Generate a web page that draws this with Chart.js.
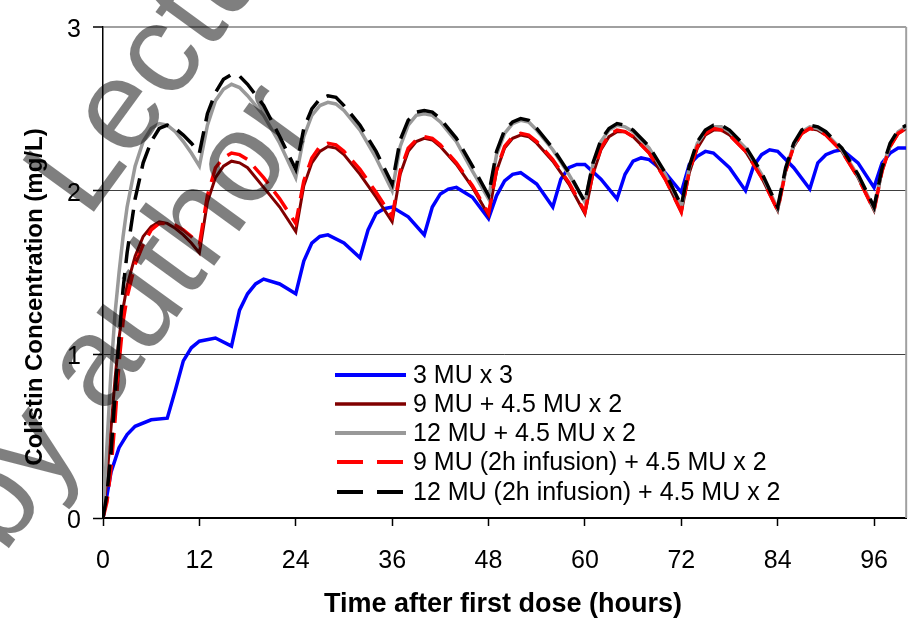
<!DOCTYPE html>
<html lang="en">
<head>
    <meta charset="UTF-8">
    <title>Colistin Concentration</title>
    <script src="https://cdn.jsdelivr.net/npm/chart.js"></script>
    <style>
        body { margin: 0; background: #fff; }
    </style>
</head>
<body>
    <canvas id="colistinChart" width="908" height="621"></canvas>

    <script>
        // regimen names (legend order)
        const regimens = [
            '3 MU x 3',
            '9 MU + 4.5 MU x 2',
            '12 MU + 4.5 MU x 2',
            '9 MU (2h infusion) + 4.5 MU x 2',
            '12 MU (2h infusion) + 4.5 MU x 2'
        ];

        const xTickStep = 12;
        const yTickStep = 1;

        // 3 MU every 8 h
        const hours8h = [0, 1, 2, 3, 4, 6, 8, 9, 10, 11, 12, 14, 16, 17, 18, 19, 20, 22, 24,
            25, 26, 27, 28, 30, 32, 33, 34, 35, 36, 38, 40, 41, 42, 43, 44, 46, 48,
            49, 50, 51, 52, 54, 56, 57, 58, 59, 60, 62, 64, 65, 66, 67, 68, 70, 72,
            73, 74, 75, 76, 78, 80, 81, 82, 83, 84, 86, 88, 89, 90, 91, 92, 94, 96,
            97, 98, 99, 100];
        const conc3MU = [0, 0.28, 0.43, 0.51, 0.56, 0.60, 0.61, 0.78, 0.96, 1.04, 1.08, 1.10, 1.05,
            1.27, 1.37, 1.43, 1.46, 1.43, 1.37, 1.57, 1.68, 1.72, 1.73, 1.68, 1.59,
            1.76, 1.86, 1.89, 1.90, 1.84, 1.73, 1.90, 1.98, 2.01, 2.02, 1.96, 1.83,
            1.97, 2.06, 2.10, 2.11, 2.04, 1.90, 2.07, 2.14, 2.16, 2.16, 2.07, 1.95,
            2.10, 2.18, 2.20, 2.19, 2.11, 1.99, 2.16, 2.21, 2.24, 2.23, 2.14, 2.00,
            2.15, 2.22, 2.25, 2.24, 2.14, 2.01, 2.17, 2.22, 2.24, 2.25, 2.17, 2.02,
            2.17, 2.23, 2.26, 2.26];

        // loading dose then 4.5 MU every 12 h
        const hours12h = [0, 0.5, 1, 1.5, 2, 2.5, 3, 4, 5, 6, 7, 8, 9, 10, 11, 12,
            13, 14, 15, 16, 17, 18, 20, 22, 24,
            25, 26, 27, 28, 29, 30, 32, 34, 36,
            37, 38, 39, 40, 41, 42, 44, 46, 48,
            49, 50, 51, 52, 53, 54, 56, 58, 60,
            61, 62, 63, 64, 65, 66, 68, 70, 72,
            73, 74, 75, 76, 77, 78, 80, 82, 84,
            85, 86, 87, 88, 89, 90, 92, 94, 96,
            97, 98, 99, 100];
        const conc9MU = [0, 0.25, 0.55, 0.85, 1.10, 1.28, 1.42, 1.60, 1.72, 1.78, 1.81, 1.80, 1.77, 1.73, 1.68, 1.62,
            1.93, 2.08, 2.15, 2.18, 2.17, 2.14, 2.02, 1.90, 1.75,
            2.03, 2.17, 2.24, 2.27, 2.26, 2.22, 2.10, 1.96, 1.81,
            2.10, 2.24, 2.30, 2.32, 2.31, 2.27, 2.16, 2.02, 1.85,
            2.12, 2.26, 2.32, 2.34, 2.33, 2.29, 2.18, 2.04, 1.86,
            2.10, 2.25, 2.33, 2.36, 2.36, 2.33, 2.23, 2.07, 1.87,
            2.11, 2.26, 2.34, 2.37, 2.37, 2.34, 2.24, 2.08, 1.88,
            2.12, 2.27, 2.35, 2.38, 2.37, 2.34, 2.24, 2.08, 1.88,
            2.12, 2.27, 2.35, 2.38];
        const conc12MU = [0, 0.45, 0.90, 1.25, 1.50, 1.72, 1.90, 2.15, 2.30, 2.38, 2.41, 2.40, 2.36, 2.30, 2.23, 2.15,
            2.40, 2.55, 2.62, 2.65, 2.63, 2.58, 2.46, 2.29, 2.08,
            2.33, 2.46, 2.52, 2.54, 2.53, 2.49, 2.37, 2.20, 2.00,
            2.27, 2.40, 2.46, 2.47, 2.46, 2.42, 2.30, 2.12, 1.95,
            2.22, 2.35, 2.41, 2.43, 2.42, 2.37, 2.25, 2.10, 1.93,
            2.16, 2.30, 2.37, 2.40, 2.39, 2.36, 2.26, 2.10, 1.90,
            2.14, 2.29, 2.36, 2.39, 2.39, 2.36, 2.26, 2.10, 1.89,
            2.13, 2.28, 2.36, 2.39, 2.38, 2.35, 2.25, 2.09, 1.89,
            2.13, 2.28, 2.36, 2.39];
        const conc9MUInf = [0, 0.10, 0.30, 0.60, 0.95, 1.20, 1.35, 1.55, 1.67, 1.76, 1.80, 1.80, 1.79, 1.76, 1.72, 1.67,
            1.97, 2.14, 2.20, 2.23, 2.22, 2.19, 2.08, 1.95, 1.80,
            2.06, 2.20, 2.27, 2.29, 2.28, 2.24, 2.13, 1.99, 1.84,
            2.12, 2.26, 2.31, 2.33, 2.32, 2.28, 2.17, 2.03, 1.86,
            2.13, 2.27, 2.33, 2.35, 2.34, 2.30, 2.19, 2.05, 1.87,
            2.11, 2.26, 2.34, 2.37, 2.36, 2.33, 2.23, 2.07, 1.87,
            2.12, 2.27, 2.35, 2.38, 2.37, 2.34, 2.24, 2.08, 1.88,
            2.12, 2.27, 2.35, 2.38, 2.37, 2.34, 2.24, 2.08, 1.88,
            2.12, 2.27, 2.35, 2.38];
        const conc12MUInf = [0, 0.15, 0.40, 0.75, 1.10, 1.40, 1.62, 1.95, 2.17, 2.30, 2.38, 2.40, 2.38, 2.34, 2.29, 2.23,
            2.47, 2.60, 2.68, 2.71, 2.70, 2.65, 2.52, 2.33, 2.13,
            2.38, 2.50, 2.56, 2.58, 2.57, 2.52, 2.40, 2.24, 2.04,
            2.31, 2.43, 2.48, 2.49, 2.48, 2.44, 2.32, 2.15, 1.97,
            2.24, 2.37, 2.42, 2.44, 2.43, 2.38, 2.26, 2.11, 1.93,
            2.17, 2.31, 2.38, 2.41, 2.40, 2.37, 2.27, 2.11, 1.91,
            2.15, 2.30, 2.37, 2.40, 2.40, 2.37, 2.27, 2.11, 1.90,
            2.14, 2.29, 2.37, 2.40, 2.39, 2.36, 2.26, 2.10, 1.90,
            2.14, 2.29, 2.37, 2.40];

        const FONT = '"Liberation Sans", Arial, sans-serif';

        function pairs(xs, ys) {
            return xs.map((x, i) => ({ x: x, y: ys[i] }));
        }

        // gray frame on the right side of the plot
        const frame = {
            id: 'frame',
            beforeDatasetsDraw(chart) {
                const { ctx, chartArea: a } = chart;
                ctx.save();
                ctx.strokeStyle = '#a0a0a0';
                ctx.lineWidth = 2;
                ctx.beginPath();
                ctx.moveTo(a.right, a.top);
                ctx.lineTo(a.right, a.bottom);
                ctx.stroke();
                ctx.restore();
            }
        };

        const axisTitles = {
            id: 'axisTitles',
            afterDraw(chart) {
                const ctx = chart.ctx;
                ctx.save();
                ctx.fillStyle = '#000';
                ctx.textAlign = 'center';
                ctx.textBaseline = 'middle';
                ctx.font = 'bold 27px ' + FONT;
                ctx.fillText('Time after first dose (hours)', 503, 605);
                ctx.translate(35, 297);
                ctx.rotate(-Math.PI / 2);
                ctx.font = 'bold 24px ' + FONT;
                ctx.fillText('Colistin Concentration (mg/L)', 0, 0);
                ctx.restore();
            }
        };

        // legend sits inside the plot, lower right
        const insideLegend = {
            id: 'insideLegend',
            afterDraw(chart) {
                const ctx = chart.ctx;
                const rows = [375, 404, 433, 462, 492];
                ctx.save();
                ctx.font = '25px ' + FONT;
                ctx.textBaseline = 'middle';
                chart.data.datasets.forEach((ds, i) => {
                    const y = rows[i];
                    ctx.strokeStyle = ds.borderColor;
                    ctx.lineWidth = ds.borderWidth + 0.5;
                    ctx.lineCap = 'butt';
                    ctx.beginPath();
                    if (ds.borderDash) {
                        ctx.moveTo(337, y); ctx.lineTo(363, y);
                        ctx.moveTo(377, y); ctx.lineTo(403, y);
                    } else {
                        ctx.moveTo(335, y); ctx.lineTo(406, y);
                    }
                    ctx.stroke();
                    ctx.fillStyle = '#000';
                    ctx.fillText(ds.label, 413, y + 1);
                });
                ctx.restore();
            }
        };

        const watermark = {
            id: 'watermark',
            afterDraw(chart) {
                const ctx = chart.ctx;
                ctx.save();
                ctx.fillStyle = 'rgba(0, 0, 0, 0.5)';
                ctx.font = '128px ' + FONT;
                ctx.translate(4, 555);
                ctx.rotate(-54 * Math.PI / 180);
                ctx.fillText('by author', 0, 0);
                ctx.fillText('Lecture', 320, -129);
                ctx.restore();
            }
        };

        function createChart() {
            const ctx = document.getElementById('colistinChart').getContext('2d');

            new Chart(ctx, {
                type: 'line',
                data: {
                    datasets: [
                        {
                            label: regimens[0],
                            data: pairs(hours8h, conc3MU),
                            borderColor: '#0000ff',
                            borderWidth: 3.5,
                            order: 5
                        },
                        {
                            label: regimens[1],
                            data: pairs(hours12h, conc9MU),
                            borderColor: '#800000',
                            borderWidth: 3,
                            order: 4
                        },
                        {
                            label: regimens[2],
                            data: pairs(hours12h, conc12MU),
                            borderColor: '#999999',
                            borderWidth: 3.5,
                            order: 3
                        },
                        {
                            label: regimens[3],
                            data: pairs(hours12h, conc9MUInf),
                            borderColor: '#ff0000',
                            borderWidth: 3.5,
                            borderDash: [22, 10],
                            order: 2
                        },
                        {
                            label: regimens[4],
                            data: pairs(hours12h, conc12MUInf),
                            borderColor: '#000000',
                            borderWidth: 3.5,
                            borderDash: [22, 10],
                            order: 1
                        }
                    ]
                },
                options: {
                    responsive: false,
                    animation: false,
                    devicePixelRatio: 1,
                    layout: { padding: { left: 0, right: 1, top: 19, bottom: 0 } },
                    elements: {
                        point: { radius: 0 },
                        line: { tension: 0, fill: false, borderCapStyle: 'butt' }
                    },
                    scales: {
                        x: {
                            type: 'linear',
                            min: 0,
                            max: 100,
                            afterFit: s => { s.height = 103; },
                            ticks: {
                                stepSize: xTickStep,
                                includeBounds: false,
                                color: '#000',
                                padding: 20,
                                maxRotation: 0,
                                font: { family: FONT, size: 25 }
                            },
                            grid: {
                                drawOnChartArea: false,
                                tickLength: 8,
                                tickColor: '#000',
                                tickWidth: 1.5
                            },
                            border: { color: '#000', width: 2 }
                        },
                        y: {
                            type: 'linear',
                            min: 0,
                            max: 3,
                            afterFit: s => { s.width = 103; },
                            ticks: {
                                stepSize: yTickStep,
                                color: '#000',
                                padding: 12,
                                labelOffset: 3,
                                font: { family: FONT, size: 25 }
                            },
                            grid: {
                                color: c => c.tick.value === 0 ? 'rgba(0,0,0,0)' : (c.tick.value === 3 ? '#a0a0a0' : '#404040'),
                                lineWidth: c => c.tick.value === 3 ? 2 : 1,
                                tickLength: 10,
                                tickColor: '#000',
                                tickWidth: 1.5
                            },
                            border: { color: '#000', width: 1.5 }
                        }
                    },
                    plugins: {
                        legend: { display: false },
                        tooltip: { enabled: false },
                        title: { display: false }
                    }
                },
                plugins: [frame, axisTitles, insideLegend, watermark]
            });
        }

        window.onload = createChart;
    </script>
</body>
</html>
